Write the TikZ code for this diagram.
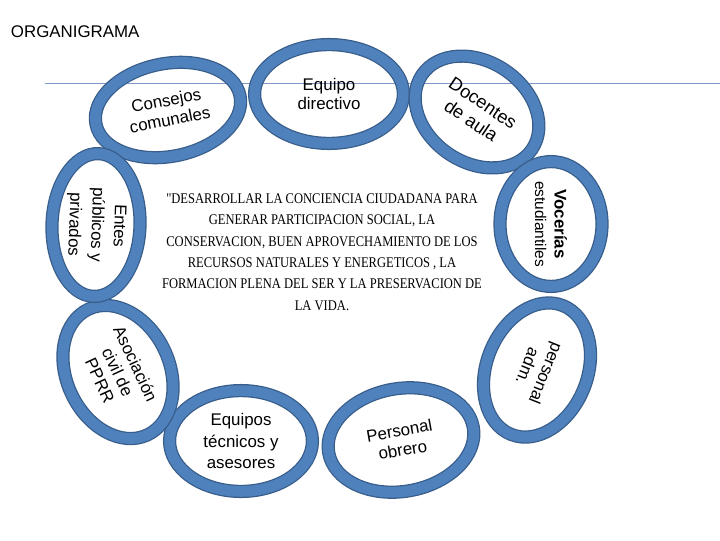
\documentclass[tikz,border=0pt]{standalone}
\usepackage{fontspec}
\setmainfont{Liberation Sans}
\newfontfamily\motto[FakeStretch=0.85]{Liberation Serif}
\usetikzlibrary{shapes.geometric}
\definecolor{azul}{HTML}{4F81BD}
\definecolor{borde}{HTML}{385D8A}
\definecolor{raya}{HTML}{7F98C4}

\begin{document}
\begin{tikzpicture}[x=0.025cm, y=0.025cm,
    anillo/.style={ellipse, draw=borde, line width=0.9pt, double=azul, double distance=7.6pt,
        inner sep=0pt, align=center, font=\fontsize{12}{14}\selectfont}]
    \useasboundingbox (0,0) rectangle (720,-540);

    % título y raya
    \node[anchor=base west, font=\fontsize{12}{14}\selectfont] (titulo) at (6,-37) {ORGANIGRAMA};
    \draw[raya, line width=0.6pt] (45,-83) -- (720,-83);

    % 1. anillos de arriba
    \node[anillo, rotate=11, minimum width=3.67cm, minimum height=2.32cm] (consejos) at (168,-110) {Consejos\\comunales};
    \node[anillo, minimum width=3.72cm, minimum height=2.47cm] (directivo) at (329,-94) {Equipo\\directivo};
    \node[anillo, rotate=-34, minimum width=3.32cm, minimum height=2.52cm,
        font=\fontsize{13}{15}\selectfont] (docentes) at (477,-112) {Docentes\\de aula};

    % 2. anillos de la derecha
    \node[anillo, rotate=-90, minimum width=3.12cm, minimum height=2.55cm] (vocerias) at (551,-224)
        {\bfseries Vocerías\\{\fontsize{11}{12}\selectfont estudiantiles}};
    \node[anillo, rotate=-112, minimum width=3.47cm, minimum height=2.52cm] (adm) at (537,-370) {personal\\adm.};

    % 3. anillos de abajo
    \node[anillo, rotate=10, minimum width=3.67cm, minimum height=2.57cm] (obrero) at (401,-440) {Personal\\obrero};
    \node[anillo, minimum width=3.57cm, minimum height=2.52cm,
        font=\fontsize{12}{15.2}\selectfont] (tecnicos) at (241,-441) {Equipos\\técnicos y\\asesores};

    % 4. anillos de la izquierda
    \node[anillo, rotate=-65, minimum width=3.47cm, minimum height=2.57cm] (asociacion) at (118,-372) {Asociación\\civil de\\PPRR};
    \node[anillo, rotate=-92, minimum width=3.57cm, minimum height=2.2cm,
        font=\fontsize{12}{16}\selectfont] (entes) at (96,-225) {Entes\\públicos y\\privados};

    % lema del centro
    \node[align=center, font=\motto\fontsize{10.5}{15.2}\selectfont] (lema) at (322,-252)
        {"DESARROLLAR LA CONCIENCIA CIUDADANA PARA\\
         GENERAR PARTICIPACION SOCIAL, LA\\
         CONSERVACION, BUEN APROVECHAMIENTO DE LOS\\
         RECURSOS NATURALES Y ENERGETICOS , LA\\
         FORMACION PLENA DEL SER Y LA PRESERVACION DE\\
         LA VIDA.};

\end{tikzpicture}
\end{document}
